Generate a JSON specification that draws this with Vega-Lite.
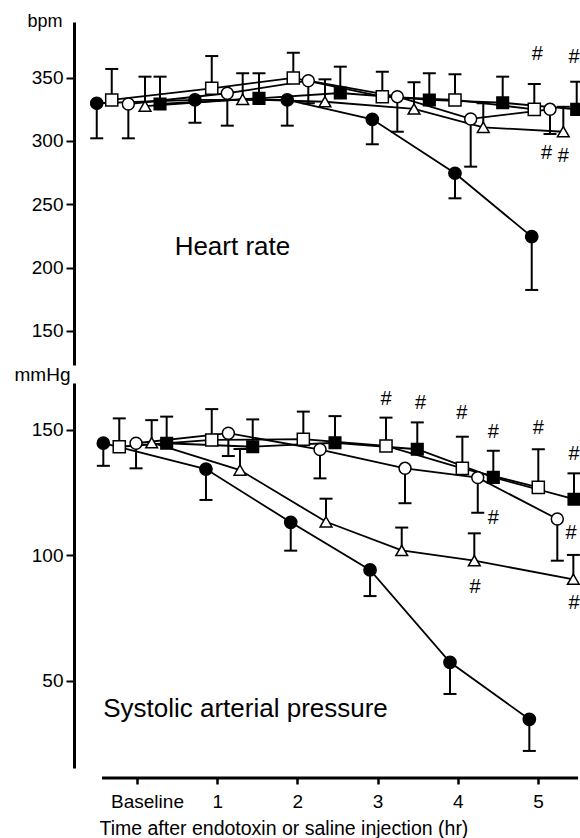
{
  "$schema": "https://vega.github.io/schema/vega-lite/v6.json",
  "background": "white",
  "padding": {"left": 14, "top": 12, "right": 0, "bottom": 0},
  "spacing": 0,
  "datasets": {
    "top": [
      {"s": "G1", "t": -0.502, "v": 329.8, "e": 302.1},
      {"s": "G1", "t": 0.723, "v": 332.4, "e": 314.4},
      {"s": "G1", "t": 1.874, "v": 332.4, "e": 312.1},
      {"s": "G1", "t": 2.934, "v": 317.1, "e": 297.4},
      {"s": "G1", "t": 3.965, "v": 274.5, "e": 254.7},
      {"s": "G1", "t": 4.922, "v": 224.4, "e": 182.3},
      {"s": "G2", "t": -0.315, "v": 332.4, "e": 356.9},
      {"s": "G2", "t": 0.932, "v": 341.6, "e": 367.1},
      {"s": "G2", "t": 1.949, "v": 349.8, "e": 369.7},
      {"s": "G2", "t": 3.059, "v": 335.0, "e": 354.7},
      {"s": "G2", "t": 3.965, "v": 332.4, "e": 352.7},
      {"s": "G2", "t": 4.954, "v": 325.0, "e": 345.0},
      {"s": "G3", "t": -0.108, "v": 329.2, "e": 302.1},
      {"s": "G3", "t": 1.126, "v": 337.7, "e": 312.1},
      {"s": "G3", "t": 2.136, "v": 347.6, "e": 329.8},
      {"s": "G3", "t": 3.246, "v": 335.0, "e": 307.3},
      {"s": "G3", "t": 4.161, "v": 317.4, "e": 279.7},
      {"s": "G3", "t": 5.150, "v": 325.0, "e": 305.5},
      {"s": "G4", "t": 0.100, "v": 327.6, "e": 350.8},
      {"s": "G4", "t": 1.318, "v": 332.9, "e": 353.5},
      {"s": "G4", "t": 2.344, "v": 331.0, "e": 348.7},
      {"s": "G4", "t": 3.454, "v": 325.3, "e": 346.4},
      {"s": "G4", "t": 4.318, "v": 310.8, "e": 329.8},
      {"s": "G4", "t": 5.316, "v": 307.3, "e": 327.0},
      {"s": "G5", "t": 0.287, "v": 329.2, "e": 350.8},
      {"s": "G5", "t": 1.521, "v": 333.7, "e": 353.5},
      {"s": "G5", "t": 2.535, "v": 337.9, "e": 358.7},
      {"s": "G5", "t": 3.645, "v": 332.4, "e": 353.5},
      {"s": "G5", "t": 4.560, "v": 330.2, "e": 350.8},
      {"s": "G5", "t": 5.483, "v": 325.0, "e": 346.8}
    ],
    "bottom": [
      {"s": "G1", "t": -0.420, "v": 144.7, "e": 135.7},
      {"s": "G1", "t": 0.860, "v": 134.4, "e": 122.1},
      {"s": "G1", "t": 1.917, "v": 113.2, "e": 101.9},
      {"s": "G1", "t": 2.906, "v": 94.2, "e": 83.8},
      {"s": "G1", "t": 3.903, "v": 57.4, "e": 44.8},
      {"s": "G1", "t": 4.892, "v": 34.7, "e": 22.1},
      {"s": "G2", "t": -0.221, "v": 143.3, "e": 154.6},
      {"s": "G2", "t": 0.932, "v": 146.0, "e": 158.3},
      {"s": "G2", "t": 2.074, "v": 146.3, "e": 157.3},
      {"s": "G2", "t": 3.105, "v": 143.6, "e": 154.9},
      {"s": "G2", "t": 4.057, "v": 134.7, "e": 147.3},
      {"s": "G2", "t": 5.004, "v": 127.1, "e": 142.3},
      {"s": "G3", "t": -0.012, "v": 144.7, "e": 134.7},
      {"s": "G3", "t": 1.139, "v": 148.7, "e": 139.6},
      {"s": "G3", "t": 2.282, "v": 142.2, "e": 130.7},
      {"s": "G3", "t": 3.342, "v": 134.7, "e": 120.8},
      {"s": "G3", "t": 4.249, "v": 131.0, "e": 117.0},
      {"s": "G3", "t": 5.241, "v": 114.5, "e": 97.9},
      {"s": "G4", "t": 0.183, "v": 144.9, "e": 153.9},
      {"s": "G4", "t": 1.284, "v": 134.0, "e": 142.4},
      {"s": "G4", "t": 2.357, "v": 113.4, "e": 122.6},
      {"s": "G4", "t": 3.301, "v": 102.0, "e": 111.1},
      {"s": "G4", "t": 4.206, "v": 97.9, "e": 108.8},
      {"s": "G4", "t": 5.441, "v": 90.5, "e": 100.2},
      {"s": "G5", "t": 0.370, "v": 144.7, "e": 155.3},
      {"s": "G5", "t": 1.443, "v": 143.3, "e": 154.2},
      {"s": "G5", "t": 2.469, "v": 144.9, "e": 155.5},
      {"s": "G5", "t": 3.495, "v": 142.3, "e": 153.0},
      {"s": "G5", "t": 4.443, "v": 131.1, "e": 141.7},
      {"s": "G5", "t": 5.449, "v": 122.4, "e": 132.7}
    ],
    "hashTop": [
      {"t": 4.992, "v": 368.7},
      {"t": 5.45, "v": 366.3},
      {"t": 5.108, "v": 290.3},
      {"t": 5.316, "v": 288.1}
    ],
    "hashBottom": [
      {"t": 3.105, "v": 162.2},
      {"t": 3.537, "v": 160.6},
      {"t": 4.049, "v": 156.9},
      {"t": 4.443, "v": 149.3},
      {"t": 5.004, "v": 150.6},
      {"t": 5.45, "v": 140.4},
      {"t": 4.443, "v": 115.0},
      {"t": 5.412, "v": 108.8},
      {"t": 4.215, "v": 87.5},
      {"t": 5.449, "v": 80.9}
    ],
    "labelTop": [{"label": "Heart rate", "t": 1.19, "v": 210.3}],
    "labelBottom": [{"label": "Systolic arterial pressure", "t": 1.353, "v": 35.7}],
    "xAxisLine": [{"from": -0.436, "to": 5.5, "level": 11.3}]
  },
  "vconcat": [
    {
      "width": 492,
      "height": 343,
      "data": {"name": "top"},
      "encoding": {
        "x": {"field": "t", "type": "quantitative", "scale": {"domain": [-0.611, 5.524], "nice": false, "zero": false}, "axis": null},
        "y": {
          "field": "v", "type": "quantitative",
          "scale": {"domain": [123, 394], "nice": false, "zero": false},
          "axis": {
            "values": [150, 200, 250, 300, 350],
            "offset": 14, "domainWidth": 3, "tickSize": 8, "tickWidth": 2,
            "labelPadding": 3, "labelFontSize": 19,
            "title": "bpm", "titleAngle": 0, "titleAlign": "right", "titleBaseline": "top",
            "titleX": -12, "titleY": -10, "titleFontSize": 18
          }
        }
      },
      "layer": [
        {"mark": {"type": "line", "color": "black", "strokeWidth": 1.8, "clip": true},
         "encoding": {"detail": {"field": "s"}, "order": {"field": "t", "type": "quantitative"}}},
        {"mark": {"type": "rule", "color": "black", "strokeWidth": 2, "clip": true},
         "encoding": {"y2": {"field": "e"}}},
        {"mark": {"type": "tick", "orient": "horizontal", "size": 13, "thickness": 2, "color": "black", "opacity": 1, "clip": true},
         "encoding": {"y": {"field": "e", "type": "quantitative"}}},
        {"mark": {"type": "point", "filled": true, "stroke": "black", "strokeWidth": 1.5, "opacity": 1, "clip": true},
         "encoding": {
           "shape": {"field": "s", "type": "nominal", "scale": {"domain": ["G1", "G2", "G3", "G4", "G5"], "range": ["circle", "square", "circle", "triangle-up", "square"]}, "legend": null},
           "fill": {"field": "s", "type": "nominal", "scale": {"domain": ["G1", "G2", "G3", "G4", "G5"], "range": ["black", "white", "white", "white", "black"]}, "legend": null},
           "size": {"field": "s", "type": "ordinal", "scale": {"domain": ["G1", "G2", "G3", "G4", "G5"], "range": [150, 135, 150, 150, 135]}, "legend": null}
         }},
        {"data": {"name": "hashTop"},
         "mark": {"type": "text", "text": "#", "fontSize": 20, "fill": "black", "align": "center", "baseline": "middle", "clip": true},
         "encoding": {}},
        {"data": {"name": "labelTop"},
         "mark": {"type": "text", "fontSize": 26, "fill": "black", "align": "center", "baseline": "alphabetic"},
         "encoding": {"text": {"field": "label"}}}
      ]
    },
    {
      "width": 492,
      "height": 385,
      "data": {"name": "bottom"},
      "encoding": {
        "x": {
          "field": "t", "type": "quantitative",
          "scale": {"domain": [-0.611, 5.524], "nice": false, "zero": false},
          "axis": {
            "values": [0, 1, 2, 3, 4, 5],
            "labelExpr": "datum.value == 0 ? 'Baseline' : datum.label",
            "labelOffset": {"condition": {"test": "datum.value == 0", "value": 10}, "value": 0},
            "offset": 10, "domain": false, "tickSize": 6, "tickWidth": 2.5,
            "labelFontSize": 19, "labelBaseline": "alphabetic", "labelPadding": 23,
            "labelFlush": false, "labelOverlap": false,
            "title": "Time after endotoxin or saline injection (hr)",
            "titleFontSize": 19.5, "titleAlign": "left", "titleAnchor": "start",
            "titleX": 11, "titleY": 56, "titleBaseline": "alphabetic"
          }
        },
        "y": {
          "field": "v", "type": "quantitative",
          "scale": {"domain": [15.3, 168.7], "nice": false, "zero": false},
          "axis": {
            "values": [50, 100, 150],
            "offset": 14, "domainWidth": 3, "tickSize": 8, "tickWidth": 2,
            "labelPadding": 3, "labelFontSize": 19,
            "title": "mmHg", "titleAngle": 0, "titleAlign": "right", "titleBaseline": "alphabetic",
            "titleX": -4, "titleY": -3, "titleFontSize": 19
          }
        }
      },
      "layer": [
        {"mark": {"type": "line", "color": "black", "strokeWidth": 1.8, "clip": true},
         "encoding": {"detail": {"field": "s"}, "order": {"field": "t", "type": "quantitative"}}},
        {"mark": {"type": "rule", "color": "black", "strokeWidth": 2, "clip": true},
         "encoding": {"y2": {"field": "e"}}},
        {"mark": {"type": "tick", "orient": "horizontal", "size": 13, "thickness": 2, "color": "black", "opacity": 1, "clip": true},
         "encoding": {"y": {"field": "e", "type": "quantitative"}}},
        {"mark": {"type": "point", "filled": true, "stroke": "black", "strokeWidth": 1.5, "opacity": 1, "clip": true},
         "encoding": {
           "shape": {"field": "s", "type": "nominal", "scale": {"domain": ["G1", "G2", "G3", "G4", "G5"], "range": ["circle", "square", "circle", "triangle-up", "square"]}, "legend": null},
           "fill": {"field": "s", "type": "nominal", "scale": {"domain": ["G1", "G2", "G3", "G4", "G5"], "range": ["black", "white", "white", "white", "black"]}, "legend": null},
           "size": {"field": "s", "type": "ordinal", "scale": {"domain": ["G1", "G2", "G3", "G4", "G5"], "range": [150, 135, 150, 150, 135]}, "legend": null}
         }},
        {"data": {"name": "hashBottom"},
         "mark": {"type": "text", "text": "#", "fontSize": 20, "fill": "black", "align": "center", "baseline": "middle", "clip": true},
         "encoding": {}},
        {"data": {"name": "labelBottom"},
         "mark": {"type": "text", "fontSize": 26, "fill": "black", "align": "center", "baseline": "alphabetic"},
         "encoding": {"text": {"field": "label"}}},
        {"data": {"name": "xAxisLine"},
         "mark": {"type": "rule", "color": "black", "strokeWidth": 3},
         "encoding": {"x": {"field": "from", "type": "quantitative"}, "x2": {"field": "to"}, "y": {"field": "level", "type": "quantitative"}}}
      ]
    }
  ],
  "config": {
    "view": {"stroke": null},
    "font": "Liberation Sans",
    "axis": {"labelFont": "Liberation Sans", "titleFont": "Liberation Sans", "labelColor": "black", "titleColor": "black", "domainColor": "black", "tickColor": "black", "grid": false, "titleFontWeight": "normal"},
    "text": {"font": "Liberation Sans"}
  }
}
